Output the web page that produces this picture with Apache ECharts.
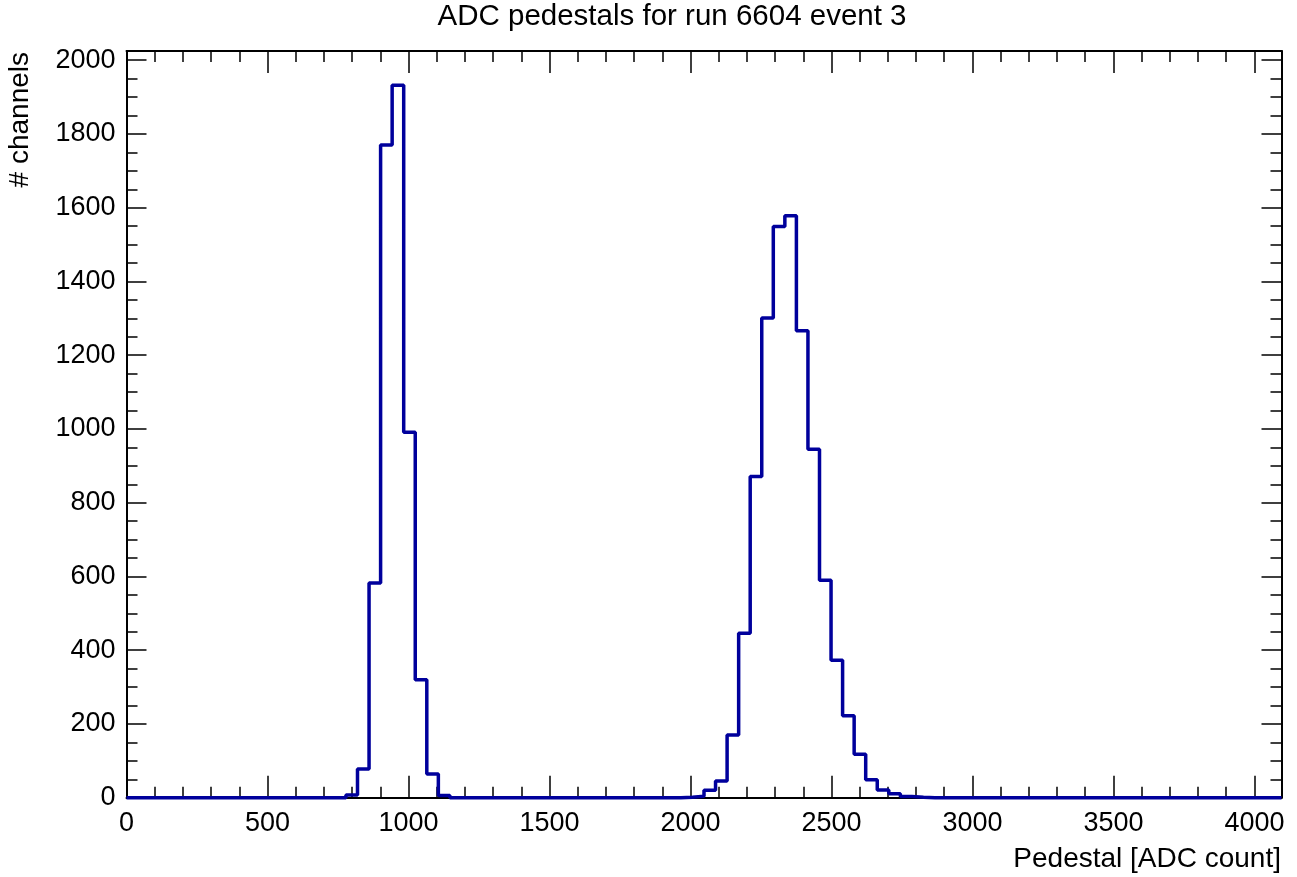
<!DOCTYPE html>
<html>
<head>
<meta charset="utf-8">
<script src="https://cdn.jsdelivr.net/npm/echarts@6/dist/echarts.min.js"></script>
<style>
html,body{margin:0;padding:0;background:#fff;}
#chart{width:1297px;height:877px;}
</style>
</head>
<body>
<div id="chart"></div>
<script>
// ---- data ----
const chartTitle = 'ADC pedestals for run 6604 event 3';
const xTitle = 'Pedestal [ADC count]';
const yTitle = '# channels';
const nBins = 100;
const xMin = 0;
const xMax = 4096;
const yMin = 0;
const yMax = 2025;
const xMajor = 500, xMinor = 100;
const yMajor = 200, yMinor = 50;
const xTickLabels = [0, 500, 1000, 1500, 2000, 2500, 3000, 3500, 4000];
const yTickLabels = [0, 200, 400, 600, 800, 1000, 1200, 1400, 1600, 1800, 2000];
// counts per bin (bin i covers [i*40.96, (i+1)*40.96))
const binCounts = [
  0, 0, 0, 0, 0, 0, 0, 0, 0, 0,          // 0-9
  0, 0, 0, 0, 0, 0, 0, 0, 0, 7,          // 10-19
  78, 582, 1770, 1932, 991, 320, 64, 6, 0, 0,   // 20-29
  0, 0, 0, 0, 0, 0, 0, 0, 0, 0,          // 30-39
  0, 0, 0, 0, 0, 0, 0, 0, 1, 4,          // 40-49
  20, 45, 170, 446, 871, 1301, 1549, 1578, 1266, 945, // 50-59
  590, 373, 222, 118, 49, 21, 11, 3, 1, 0,          // 60-69
  0, 0, 0, 0, 0, 0, 0, 0, 0, 0,          // 70-79
  0, 0, 0, 0, 0, 0, 0, 0, 0, 0,          // 80-89
  0, 0, 0, 0, 0, 0, 0, 0, 0, 0           // 90-99
];

// ---- build ----
const binWidth = (xMax - xMin) / nBins;
const stepData = binCounts.map((c, i) => [xMin + i * binWidth, c]);
stepData.push([xMax, binCounts[nBins - 1]]);

const FONT = 'Liberation Sans, Arial, Helvetica, sans-serif';
const LBL = 27;
const black = '#000';

function xAx(pos, major, labels) {
  return {
    type: 'value', position: pos, min: xMin, max: xMax,
    interval: major ? xMajor : xMinor,
    axisLine: { show: !major, onZero: false, lineStyle: { color: black, width: 2 } },
    axisTick: { show: true, inside: true, length: major ? 22 : 11, lineStyle: { color: black, width: 1.5 } },
    axisLabel: {
      show: labels, margin: 12, color: black, fontSize: LBL, fontFamily: FONT,
      formatter: v => (xTickLabels.indexOf(v) >= 0 ? String(v) : '')
    },
    splitLine: { show: false }
  };
}
function yAx(pos, major, labels) {
  return {
    type: 'value', position: pos, min: yMin, max: yMax,
    interval: major ? yMajor : yMinor,
    axisLine: { show: !major, onZero: false, lineStyle: { color: black, width: 2 } },
    axisTick: { show: true, inside: true, length: major ? 20 : 11, lineStyle: { color: black, width: 1.5 } },
    axisLabel: {
      show: labels, margin: 11, color: black, fontSize: LBL, fontFamily: FONT,
      formatter: v => (yTickLabels.indexOf(v) >= 0 ? String(v) : '')
    },
    splitLine: { show: false }
  };
}

const chart = echarts.init(document.getElementById('chart'), null, { renderer: 'canvas' });
chart.setOption({
  animation: false,
  backgroundColor: '#fff',
  grid: { left: 126.5, right: 15.5, top: 51, bottom: 79.3, containLabel: false },
  xAxis: [xAx('bottom', false, false), xAx('bottom', true, true), xAx('top', false, false), xAx('top', true, false)],
  yAxis: [yAx('left', false, false), yAx('left', true, true), yAx('right', false, false), yAx('right', true, false)],
  series: [{
    type: 'line',
    xAxisIndex: 0, yAxisIndex: 0,
    step: 'end',
    data: stepData,
    symbol: 'none',
    clip: false,
    lineStyle: { color: '#00009c', width: 3.5 },
    z: 5
  }],
  graphic: [
    { type: 'text', x: 672, y: 17, style: { text: chartTitle, fill: black, font: '29.5px ' + FONT, align: 'center', verticalAlign: 'middle' } },
    { type: 'text', x: 1281, y: 859, style: { text: xTitle, fill: black, font: '28px ' + FONT, align: 'right', verticalAlign: 'middle' } },
    { type: 'text', x: 20, y: 52, rotation: Math.PI / 2, style: { text: yTitle, fill: black, font: '28px ' + FONT, align: 'right', verticalAlign: 'middle' } }
  ]
});
</script>
</body>
</html>
